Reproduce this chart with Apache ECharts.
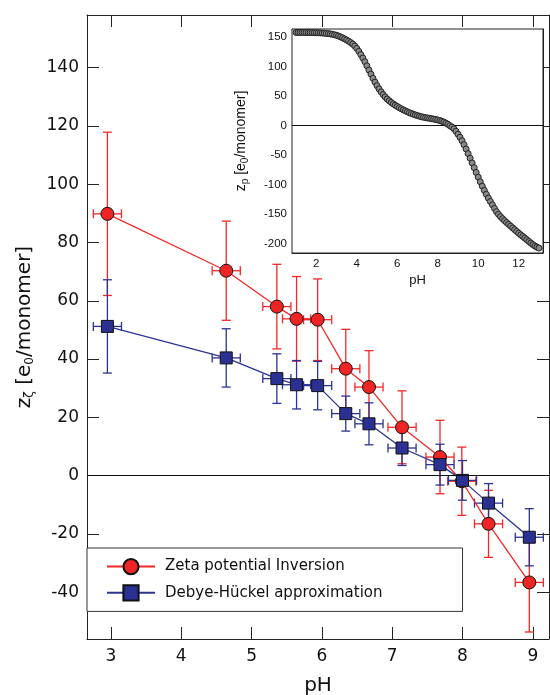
<!DOCTYPE html>
<html>
<head>
<meta charset="utf-8">
<script src="https://cdn.jsdelivr.net/npm/echarts@6/dist/echarts.min.js"></script>
<style>
    html, body { margin: 0; padding: 0; background: #fff; }
    #main { width: 550px; height: 695px; }
</style>
</head>
<body>
<div id="main"></div>
<script>
// 主图数据: Zeta potential Inversion (红)
var phRed = [2.95, 4.64, 5.36, 5.64, 5.94, 6.34, 6.67, 7.14, 7.68, 7.99, 8.37, 8.95];
var zetaRed = [89.8, 70.3, 58.0, 53.8, 53.5, 36.7, 30.4, 16.6, 6.4, -1.9, -16.5, -36.6];
var zetaRedErr = [28, 17, 14.5, 14.5, 14, 13.5, 12.5, 12.5, 12.6, 11.7, 11.5, 17];
var phRedErr = [0.2, 0.2, 0.2, 0.2, 0.2, 0.2, 0.2, 0.2, 0.2, 0.2, 0.2, 0.2];

// 主图数据: Debye-Hückel approximation (蓝)
var phBlue = [2.95, 4.64, 5.36, 5.64, 5.94, 6.34, 6.67, 7.14, 7.68, 8.0, 8.37, 8.95];
var dhBlue = [51.2, 40.4, 33.3, 31.2, 30.9, 21.3, 17.8, 9.5, 3.8, -1.6, -9.4, -21.1];
var dhBlueErr = [16, 10, 8.5, 8.3, 8.3, 6, 7.2, 6, 7, 6.8, 6.7, 9.8];
var phBlueErr = [0.2, 0.2, 0.2, 0.2, 0.2, 0.2, 0.2, 0.2, 0.2, 0.2, 0.2, 0.2];

// 刻度
var mainXTicks = [3, 4, 5, 6, 7, 8, 9];
var mainYTicks = [-40, -20, 0, 20, 40, 60, 80, 100, 120, 140];
var insetXTicks = [2, 4, 6, 8, 10, 12];
var insetYTicks = [-200, -150, -100, -50, 0, 50, 100, 150];

// 小图数据: z_p vs pH
var insetPh = [1.0, 1.1, 1.2, 1.3, 1.4, 1.5, 1.6, 1.7, 1.8, 1.9,
    2.0, 2.1, 2.2, 2.3, 2.4, 2.5, 2.6, 2.7, 2.8, 2.9,
    3.0, 3.1, 3.2, 3.3, 3.4, 3.5, 3.6, 3.7, 3.8, 3.9,
    4.0, 4.1, 4.2, 4.3, 4.4, 4.5, 4.6, 4.7, 4.8, 4.9,
    5.0, 5.1, 5.2, 5.3, 5.4, 5.5, 5.6, 5.7, 5.8, 5.9,
    6.0, 6.1, 6.2, 6.3, 6.4, 6.5, 6.6, 6.7, 6.8, 6.9,
    7.0, 7.1, 7.2, 7.3, 7.4, 7.5, 7.6, 7.7, 7.8, 7.9,
    8.0, 8.1, 8.2, 8.3, 8.4, 8.5, 8.6, 8.7, 8.8, 8.9,
    9.0, 9.1, 9.2, 9.3, 9.4, 9.5, 9.6, 9.7, 9.8, 9.9,
    10.0, 10.1, 10.2, 10.3, 10.4, 10.5, 10.6, 10.7, 10.8, 10.9,
    11.0, 11.1, 11.2, 11.3, 11.4, 11.5, 11.6, 11.7, 11.8, 11.9,
    12.0, 12.1, 12.2, 12.3, 12.4, 12.5, 12.6, 12.7, 12.8, 12.9, 13.0];
var insetZp = [157.5, 157.5, 157.5, 157.5, 157.4, 157.4, 157.3, 157.3, 157.2, 157.1,
    157.0, 156.9, 156.7, 156.5, 156.2, 155.9, 155.5, 155.0, 154.3, 153.5,
    152.6, 151.4, 150.0, 148.4, 146.6, 144.7, 142.6, 140.3, 137.8, 134.6,
    130.5, 125.5, 120.0, 114.2, 108.0, 101.0, 94.0, 87.0, 80.0, 73.5,
    67.5, 62.0, 57.0, 52.5, 48.5, 45.0, 42.0, 39.2, 36.7, 34.4,
    32.3, 30.3, 28.4, 26.6, 24.9, 23.3, 21.8, 20.4, 19.1, 17.9,
    16.8, 15.8, 14.9, 14.1, 13.4, 12.8, 12.2, 11.6, 11.0, 10.3,
    9.5, 8.5, 7.3, 5.9, 4.2, 2.2, -0.2, -2.5, -5.5, -9.6,
    -14.6, -19.8, -25.6, -32.3, -39.6, -47.4, -55.2, -63.2, -71.2, -79.3,
    -87.2, -95.0, -102.5, -109.6, -116.3, -122.6, -128.4, -134.0, -140.0, -145.5,
    -150.0, -154.0, -157.5, -160.8, -164.0, -167.0, -170.0, -173.0, -176.0, -179.0,
    -182.0, -184.8, -187.5, -190.3, -193.1, -195.9, -198.7, -201.3, -203.6, -205.6, -207.2];

(function () {
    var myChart = echarts.init(document.getElementById('main'));
    var font = 'DejaVu Sans';
    var frame = '#222';

    function pairs(xs, ys) {
        var out = [];
        for (var i = 0; i < xs.length; i++) out.push([xs[i], ys[i]]);
        return out;
    }
    function errData(xs, ys, dxs, dys) {
        var out = [];
        for (var i = 0; i < xs.length; i++) out.push([xs[i], ys[i], dxs[i], dys[i]]);
        return out;
    }
    // 误差棒 (十字 + 端帽)
    function errorBars(color) {
        return function (params, api) {
            var x = api.value(0), y = api.value(1), dx = api.value(2), dy = api.value(3);
            var top = api.coord([x, y + dy]);
            var bot = api.coord([x, y - dy]);
            var lft = api.coord([x - dx, y]);
            var rgt = api.coord([x + dx, y]);
            var cap = 4.5;
            var st = { stroke: color, lineWidth: 1.3 };
            function seg(x1, y1, x2, y2) {
                return { type: 'line', shape: { x1: x1, y1: y1, x2: x2, y2: y2 }, style: st };
            }
            return {
                type: 'group',
                children: [
                    seg(top[0], top[1], bot[0], bot[1]),
                    seg(top[0] - cap, top[1], top[0] + cap, top[1]),
                    seg(bot[0] - cap, bot[1], bot[0] + cap, bot[1]),
                    seg(lft[0], lft[1], rgt[0], rgt[1]),
                    seg(lft[0], lft[1] - cap, lft[0], lft[1] + cap),
                    seg(rgt[0], rgt[1] - cap, rgt[0], rgt[1] + cap)
                ]
            };
        };
    }
    function zeroLine(width) {
        return {
            silent: true,
            symbol: ['none', 'none'],
            label: { show: false },
            lineStyle: { color: '#111', width: width, type: 'solid' },
            data: [{ yAxis: 0 }]
        };
    }

    var redColor = '#f52626';
    var blueColor = '#2c3393';

    var option = {
        animation: false,
        backgroundColor: '#fff',
        textStyle: { fontFamily: font },
        grid: [
            { left: 87, top: 15, right: 1, bottom: 56, show: false, outerBoundsMode: 'none' },
            { left: 292, top: 29, right: 7, bottom: 442, show: true, backgroundColor: '#fff', borderColor: frame, borderWidth: 1, z: 5, outerBoundsMode: 'none' }
        ],
        legend: {
            left: 87,
            top: 548,
            orient: 'vertical',
            backgroundColor: '#fff',
            borderColor: '#333',
            borderWidth: 1,
            borderRadius: 0,
            padding: [10, 80, 10, 19],
            itemGap: 9,
            itemWidth: 48,
            itemHeight: 19,
            textStyle: { fontFamily: font, fontSize: 15, color: '#111', padding: [0, 0, 0, 5] },
            data: ['Zeta potential Inversion', 'Debye-Hückel approximation'],
            z: 10
        },
        xAxis: [
            {
                gridIndex: 0, type: 'value', min: 2.66, max: 9.23, position: 'bottom',
                name: 'pH', nameLocation: 'middle', nameGap: 37,
                nameTextStyle: { fontFamily: font, fontSize: 20, color: '#111' },
                axisLine: { onZero: false, lineStyle: { color: frame, width: 1 } },
                axisTick: { inside: true, length: 12, customValues: mainXTicks, lineStyle: { color: frame } },
                axisLabel: { customValues: mainXTicks, margin: 9, fontSize: 17, color: '#111', fontFamily: font },
                splitLine: { show: false }
            },
            {
                gridIndex: 0, type: 'value', min: 2.66, max: 9.23, position: 'top',
                axisLine: { onZero: false, lineStyle: { color: frame, width: 1 } },
                axisTick: { inside: true, length: 12, customValues: mainXTicks, lineStyle: { color: frame } },
                axisLabel: { show: false },
                splitLine: { show: false }
            },
            {
                gridIndex: 1, type: 'value', min: 0.8, max: 13.2, position: 'bottom',
                name: 'pH', nameLocation: 'middle', nameGap: 21,
                nameTextStyle: { fontFamily: 'Liberation Sans', fontSize: 13, color: '#111' },
                axisLine: { onZero: false, lineStyle: { color: frame, width: 1 } },
                axisTick: { inside: true, length: 6, customValues: insetXTicks, lineStyle: { color: frame } },
                axisLabel: { customValues: insetXTicks, margin: 5, fontSize: 11.5, color: '#111', fontFamily: 'Liberation Sans' },
                splitLine: { show: false }
            },
            {
                gridIndex: 1, type: 'value', min: 0.8, max: 13.2, position: 'top',
                axisLine: { onZero: false, lineStyle: { color: frame, width: 1 } },
                axisTick: { inside: true, length: 6, customValues: insetXTicks, lineStyle: { color: frame } },
                axisLabel: { show: false },
                splitLine: { show: false }
            }
        ],
        yAxis: [
            {
                gridIndex: 0, type: 'value', min: -56, max: 158, position: 'left',
                name: 'z{s|ζ} [e{s|0}/monomer]', nameLocation: 'middle', nameGap: 50,
                nameTextStyle: {
                    fontFamily: font, fontSize: 20, color: '#111',
                    rich: { s: { fontFamily: font, fontSize: 12, color: '#111', padding: [10, 0, 0, 0], verticalAlign: 'top' } }
                },
                axisLine: { onZero: false, lineStyle: { color: frame, width: 1 } },
                axisTick: { inside: true, length: 12, customValues: mainYTicks, lineStyle: { color: frame } },
                axisLabel: { customValues: mainYTicks, margin: 8, fontSize: 17, color: '#111', fontFamily: font },
                splitLine: { show: false }
            },
            {
                gridIndex: 0, type: 'value', min: -56, max: 158, position: 'right',
                axisLine: { onZero: false, lineStyle: { color: frame, width: 1 } },
                axisTick: { inside: true, length: 12, customValues: mainYTicks, lineStyle: { color: frame } },
                axisLabel: { show: false },
                splitLine: { show: false }
            },
            {
                gridIndex: 1, type: 'value', min: -215.5, max: 163.3, position: 'left',
                name: 'z{s|p} [e{s|0}/monomer]', nameLocation: 'middle', nameGap: 42,
                nameTextStyle: {
                    fontFamily: 'Liberation Sans', fontSize: 14, color: '#111',
                    rich: { s: { fontFamily: 'Liberation Sans', fontSize: 10, color: '#111', padding: [7, 0, 0, 0], verticalAlign: 'top' } }
                },
                axisLine: { onZero: false, lineStyle: { color: frame, width: 1 } },
                axisTick: { inside: true, length: 6, customValues: insetYTicks, lineStyle: { color: frame } },
                axisLabel: { customValues: insetYTicks, margin: 5, fontSize: 11.5, color: '#111', fontFamily: 'Liberation Sans' },
                splitLine: { show: false }
            },
            {
                gridIndex: 1, type: 'value', min: -215.5, max: 163.3, position: 'right',
                axisLine: { onZero: false, lineStyle: { color: frame, width: 1 } },
                axisTick: { inside: true, length: 6, customValues: insetYTicks, lineStyle: { color: frame } },
                axisLabel: { show: false },
                splitLine: { show: false }
            }
        ],
        series: [
            {
                name: 'zero-main', type: 'line', xAxisIndex: 0, yAxisIndex: 0, data: [],
                markLine: zeroLine(1.2)
            },
            {
                name: 'errRed', type: 'custom', xAxisIndex: 0, yAxisIndex: 0, z: 1,
                renderItem: errorBars(redColor),
                data: errData(phRed, zetaRed, phRedErr, zetaRedErr)
            },
            {
                name: 'errBlue', type: 'custom', xAxisIndex: 0, yAxisIndex: 0, z: 1,
                renderItem: errorBars(blueColor),
                data: errData(phBlue, dhBlue, phBlueErr, dhBlueErr)
            },
            {
                name: 'Zeta potential Inversion', type: 'line', xAxisIndex: 0, yAxisIndex: 0, z: 3,
                symbol: 'circle', symbolSize: 13,
                lineStyle: { color: redColor, width: 1.3 },
                itemStyle: { color: '#ee2524', borderColor: '#111', borderWidth: 1 },
                data: pairs(phRed, zetaRed)
            },
            {
                name: 'Debye-Hückel approximation', type: 'line', xAxisIndex: 0, yAxisIndex: 0, z: 4,
                symbol: 'rect', symbolSize: 12,
                lineStyle: { color: blueColor, width: 1.3 },
                itemStyle: { color: '#2b3192', borderColor: '#111', borderWidth: 1 },
                data: pairs(phBlue, dhBlue)
            },
            {
                name: 'inset', type: 'scatter', xAxisIndex: 2, yAxisIndex: 2, z: 6,
                symbol: 'circle', symbolSize: 6,
                itemStyle: { color: '#8a8a8a', borderColor: '#222', borderWidth: 1, opacity: 1 },
                data: pairs(insetPh, insetZp),
                markLine: zeroLine(1.2)
            }
        ]
    };

    myChart.setOption(option);
    window.addEventListener('resize', function () {
        myChart.resize();
    });
})();
</script>
</body>
</html>
